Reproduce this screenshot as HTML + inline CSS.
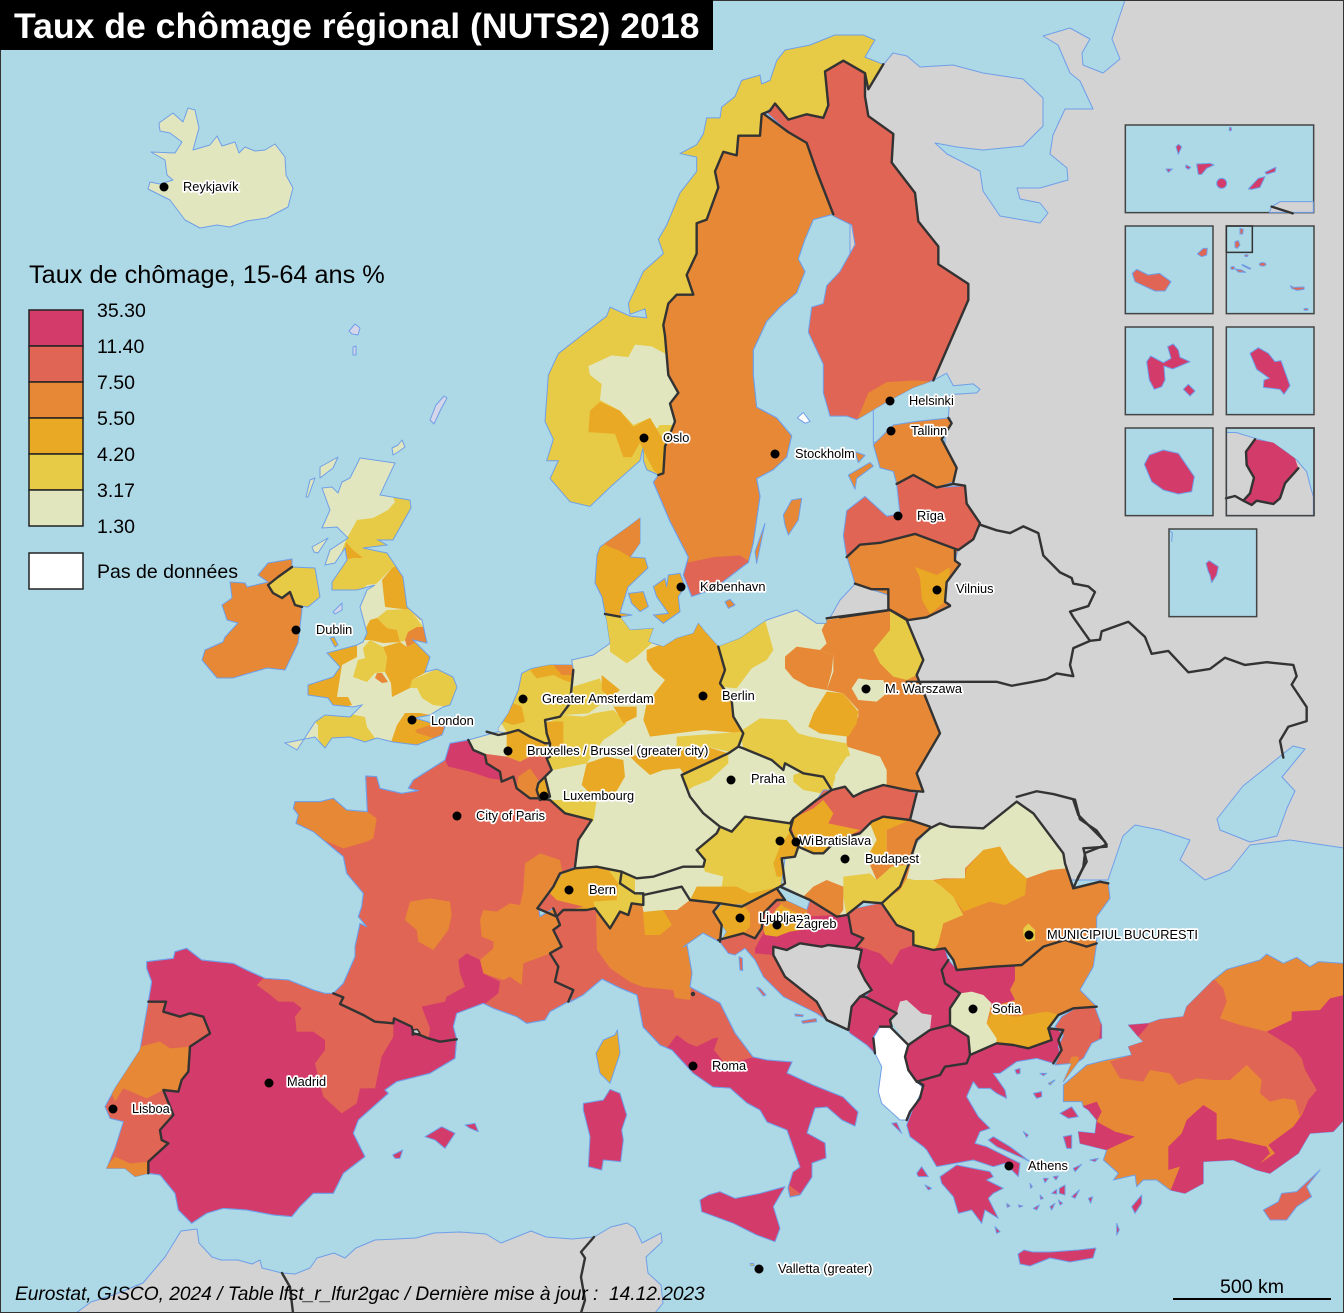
<!DOCTYPE html>
<html lang="fr">
<head>
<meta charset="utf-8">
<title>Taux de chômage régional (NUTS2) 2018</title>
<style>
html,body{margin:0;padding:0;background:#add8e6}
svg{display:block;font-family:"Liberation Sans",sans-serif}
svg *{vector-effect:non-scaling-stroke}
.c1{fill:#e1e6bf}.c2{fill:#e7ca45}.c3{fill:#eaa925}.c4{fill:#e68835}.c5{fill:#e16554}.c6{fill:#d33c6a}
.gr{fill:#d3d3d3}.wh{fill:#fff}.sea{fill:#add8e6}.pale{fill:#d6d6ea}
.coast{stroke:#6f9fe8;stroke-width:1;stroke-linejoin:round}
.lineonly{fill:none;stroke:#6f9fe8;stroke-width:1}
.b{fill:none;stroke:#333;stroke-width:2.4;stroke-linejoin:round;stroke-linecap:round}
.city text,.lab{font-size:12.8px;fill:#000;stroke:#fff;stroke-width:3.4px;paint-order:stroke;stroke-linejoin:round}
.leg{font-size:19.5px;fill:#000}
.inset{fill:#add8e6;stroke:#444;stroke-width:1.5}
</style>
</head>
<body>
<svg width="1344" height="1313" viewBox="0 0 1344 1313" xmlns="http://www.w3.org/2000/svg">
<defs>
<g transform="translate(0,0)">
<polygon id="no" points="1030,40 975,20 1005,-28 970,-42 885,-42 810,-14 735,0 710,30 690,85 665,95 660,70 605,85 585,130 545,160 540,190 500,190 490,235 470,265 420,290 470,300 470,340 420,400 380,490 355,530 370,570 310,620 265,710 270,740 315,725 320,750 270,745 210,720 200,745 110,810 55,850 25,910 15,1040 40,1090 20,1150 55,1150 30,1200 90,1265 150,1278 215,1220 300,1150 310,1110 310,1150 320,1175 355,1190 370,1185 375,1110 405,1040 390,990 415,960 385,910 375,800 370,770 385,710 410,685 460,685 440,630 470,570 470,485 500,475 535,385 525,340 550,285 590,295 595,240 660,240 665,180 690,170 705,150 745,195 800,180 850,190 865,155 855,60 910,30 975,65 985,110"/>
<polygon id="se" points="670,178 745,230 800,260 830,340 855,400 880,460 820,475 795,530 775,585 795,620 770,680 720,720 680,760 640,840 640,910 650,1000 710,1030 755,1080 740,1140 700,1175 650,1200 660,1250 640,1380 625,1435 610,1445 520,1510 455,1530 430,1470 445,1420 390,1320 340,1210 355,1190 370,1185 375,1110 405,1040 390,990 415,960 385,910 375,800 370,770 385,710 410,685 460,685 440,630 470,570 470,485 500,475 535,385 525,340 550,285 590,295 595,240 660,240 665,180"/>
<polygon id="fi" points="680,175 705,150 745,195 800,180 850,190 865,155 855,60 910,30 975,65 975,130 985,185 1060,235 1055,315 1125,400 1135,480 1195,550 1195,600 1285,655 1285,700 1180,925 1120,945 1040,985 950,1035 920,1025 870,1025 850,960 850,880 805,790 815,720 850,710 860,660 900,620 945,545 935,490 880,465 855,400 830,340 800,260 745,230"/>
<polygon id="de" points="465,42 510,50 540,90 610,85 595,125 640,140 680,115 730,100 745,70 765,95 805,140 825,210 810,250 845,300 850,350 880,400 865,440 835,460 695,525 720,590 760,640 810,680 800,700 740,750 765,780 760,800 700,800 610,830 560,835 515,815 440,800 375,805 385,720 425,660 345,640 300,600 285,580 285,530 305,510 290,475 300,470 300,430 285,430 290,400 285,360 330,350 360,310 370,210 365,180 430,165 480,130 470,60"/>
<polygon id="pl" points="805,140 870,115 950,60 1040,30 1100,70 1130,70 1130,55 1320,30 1370,60 1420,180 1400,225 1430,300 1470,400 1400,520 1420,575 1380,572 1300,555 1240,575 1210,590 1185,560 1145,570 1120,530 1060,520 1005,490 1000,510 965,480 880,445 865,440 880,400 850,350 845,300 810,250 825,210"/>
<polygon id="nl" points="145,385 175,340 205,270 215,220 245,205 300,195 365,195 370,210 360,310 330,350 285,360 290,400 300,430 285,430 240,410 205,390 170,400 145,395"/>
<polygon id="be" points="55,420 145,395 170,400 205,390 240,410 285,430 300,430 300,470 290,475 305,510 285,530 265,550 260,570 265,595 240,595 200,565 190,530 155,545 150,515 110,490 105,465 70,450"/>
<polygon id="ch" points="375,805 440,800 515,815 510,850 555,880 580,880 580,915 545,910 535,945 510,935 480,985 465,965 435,925 410,930 340,930 320,950 262,925 310,860 330,820"/>
<polygon id="at" points="515,815 560,835 610,830 700,800 760,800 765,780 740,750 800,700 810,680 845,695 885,650 1020,670 1030,655 1020,690 1045,740 1035,770 995,775 1005,850 990,860 875,920 810,910 720,900 695,860 580,885 555,880 510,850"/>
<polygon id="cz" points="695,525 835,460 865,440 880,445 965,480 1000,510 1005,490 1060,520 1120,530 1145,570 1100,600 1030,655 1020,670 885,650 845,695 810,680 760,640 720,590"/>
<polygon id="sk" points="1030,655 1100,600 1120,570 1145,570 1185,560 1210,590 1240,575 1300,555 1380,572 1400,580 1385,640 1380,660 1300,650 1265,665 1230,700 1160,720 1120,760 1090,760 1045,740 1020,690"/>
<polygon id="fr" points="1095,0 1110,-50 1165,-60 1180,-30 1215,-15 1220,10 1260,35 1265,65 1300,50 1310,85 1350,115 1375,115 1410,120 1455,160 1535,180 1495,240 1485,320 1445,340 1375,440 1380,470 1420,445 1440,495 1420,510 1445,560 1410,580 1435,620 1425,665 1480,690 1465,725 1410,755 1395,780 1340,790 1310,770 1240,745 1210,730 1130,760 1120,800 1130,838 1080,845 1045,835 1020,825 1000,820 995,800 942,775 940,790 885,785 850,765 780,732 790,712 760,700 790,670 825,590 825,560 840,490 860,500 835,470 845,440 850,400 800,340 790,290 730,240 700,215 648,190 655,165 640,145 645,125 720,125 760,115 800,150 862,155 857,48 890,50 900,85 965,100 1015,92 985,85 1000,60"/>
<polygon id="es" points="200,605 280,595 285,575 320,565 365,600 460,610 500,630 555,655 625,660 700,690 735,700 760,700 790,712 780,732 850,765 885,785 940,790 942,775 995,800 1000,820 1020,825 1045,835 1080,845 1130,838 1125,895 1050,940 950,965 915,990 925,1000 835,1080 820,1120 855,1190 790,1240 760,1300 700,1300 660,1340 635,1370 580,1365 500,1350 430,1345 380,1360 335,1390 295,1350 285,1300 240,1245 205,1240 205,1205 265,1150 245,1140 240,1110 280,1065 250,990 295,995 305,960 325,935 330,860 390,820 370,770 330,760 300,770 250,755 258,725 205,725 215,665 200,625"/>
<polygon id="pt" points="205,725 258,725 250,755 300,770 330,760 370,770 390,820 330,860 325,935 305,960 295,995 250,990 280,1065 240,1110 245,1140 265,1150 205,1205 205,1240 165,1250 135,1225 80,1225 105,1165 130,1085 90,1075 75,1040 105,985 180,870 190,810"/>
<polygon id="it" points="573,990 555,982 558,967 550,953 562,947 553,930 560,925 557,917 563,910 587,910 595,908 605,922 610,928 620,912 628,915 632,903 643,905 643,895 682,887 690,900 720,903 713,912 722,925 720,942 703,933 683,947 687,945 692,973 690,987 720,1003 735,1033 753,1057 767,1060 792,1062 787,1073 813,1085 843,1097 858,1112 855,1126 842,1120 827,1107 815,1108 807,1133 825,1143 826,1158 812,1163 812,1177 800,1195 790,1197 788,1188 793,1172 800,1167 787,1130 767,1122 760,1110 747,1103 730,1088 713,1087 693,1073 672,1050 660,1045 643,1027 637,995 620,988 602,979 583,995 570,1002"/>
<polygon id="gb" points="360,458 395,463 380,495 410,500 411,508 393,540 378,540 387,545 363,548 387,553 403,577 407,607 422,620 427,643 413,640 430,657 425,672 437,669 453,677 457,687 450,705 443,707 430,715 415,718 445,727 442,735 417,745 393,742 377,738 365,742 350,737 332,738 325,748 315,737 285,743 297,750 315,722 325,715 350,717 362,705 353,707 333,705 328,698 308,695 308,685 333,677 340,667 327,653 357,645 363,642 367,633 360,607 367,590 375,585 357,590 332,590 332,582 347,560 345,548 335,563 325,565 330,550 348,538 337,527 322,528 330,510 322,488 332,487 338,493 342,482 350,478"/>
<polygon id="ie" points="258,575 268,563 292,559 292,567 300,605 302,610 298,643 285,670 267,668 233,678 217,678 202,660 205,650 223,642 225,637 238,623 227,620 222,605 232,598 230,582 245,583 247,587 268,582"/>
<polygon id="dk" points="600,547 628,527 640,518 640,543 630,557 645,558 648,568 628,587 625,597 620,613 632,615 620,617 605,613 602,597 595,583 597,555"/>
<polygon id="lv" points="910,1360 920,1290 975,1250 1040,1305 1080,1300 1070,1215 1120,1190 1190,1225 1275,1220 1280,1270 1320,1325 1300,1370 1255,1400 1125,1355 1020,1380 960,1385 920,1420"/>
<polygon id="lt" points="847,557 860,545 880,543 915,534 958,550 955,561 960,564 947,582 945,602 950,605 927,617 907,620 888,609 888,595 855,584"/>
<polygon id="hu" points="295,140 340,160 370,160 410,120 480,100 515,65 550,50 630,60 690,80 650,120 620,200 600,260 550,305 490,305 440,345 410,350 330,300 250,260 245,250 255,175 285,170"/>
<polygon id="ro" points="625,200 650,130 690,85 720,70 750,80 850,85 950,5 1000,40 1090,160 1095,190 1120,265 1200,245 1225,250 1230,295 1190,350 1190,430 1160,440 1095,420 1030,440 965,495 880,500 770,510 760,480 735,445 700,450 640,435 640,395 590,375 545,310 600,260"/>
<polygon id="bg" points="745,480 770,510 880,500 965,495 1030,440 1095,420 1160,440 1190,430 1180,500 1140,570 1190,620 1120,625 1070,650 1045,685 1055,720 985,745 940,735 890,730 810,765 805,710 750,675 750,625 780,580 735,550 725,510"/>
<polygon id="rs" points="445,345 470,325 540,310 590,375 640,395 640,435 700,450 735,445 745,480 725,510 735,550 780,580 750,625 750,675 690,690 625,735 590,640 495,590 515,570 495,540 475,500 485,450 465,445 490,415 455,400"/>
<polygon id="hr" points="185,385 190,340 230,300 255,300 320,330 330,300 410,350 445,345 455,400 490,415 465,445 385,435 365,440 300,430 260,450 225,440 220,465 255,530 350,605 380,660 350,640 250,590 190,530 165,480 135,445 105,465 85,460 55,420 65,420 130,400 165,415"/>
<polygon id="ana" points="385,285 445,280 480,268 550,260 560,230 640,150 680,118 780,90 800,72 850,100 890,82 930,110 955,95 1032,100 1100,100 1100,650 1032,570 1000,605 930,610 895,670 810,730 770,720 700,690 610,695 610,760 555,790 510,780 470,750 430,750 410,770 405,735 340,750 355,730 310,690 320,660 240,640 235,605 285,610 290,570 265,540 250,530 245,515 190,515 190,465 260,405 300,395 320,390 395,375 385,350 430,335 415,320"/>
<polygon id="thr" points="285,232 305,285 305,325 275,340 250,385 235,395 190,455 215,400 165,405 180,370 175,350 190,315 165,290 185,260 225,235"/>
</g>
<clipPath id="cno"><use href="#no"/></clipPath><clipPath id="cse"><use href="#se"/></clipPath><clipPath id="cfi"><use href="#fi"/></clipPath>
<clipPath id="cde"><use href="#de"/></clipPath><clipPath id="cpl"><use href="#pl"/></clipPath><clipPath id="cnl"><use href="#nl"/></clipPath>
<clipPath id="cbe"><use href="#be"/></clipPath><clipPath id="cch"><use href="#ch"/></clipPath><clipPath id="cat"><use href="#at"/></clipPath>
<clipPath id="ccz"><use href="#cz"/></clipPath><clipPath id="csk"><use href="#sk"/></clipPath><clipPath id="cfr"><use href="#fr"/></clipPath>
<clipPath id="ces"><use href="#es"/></clipPath><clipPath id="cpt"><use href="#pt"/></clipPath><clipPath id="cit"><use href="#it"/></clipPath>
<clipPath id="cgb"><use href="#gb"/></clipPath><clipPath id="cdk"><use href="#dk"/></clipPath><clipPath id="clt"><use href="#lt"/></clipPath>
<clipPath id="chu"><use href="#hu"/></clipPath><clipPath id="cro"><use href="#ro"/></clipPath><clipPath id="cbg"><use href="#bg"/></clipPath>
<clipPath id="crs"><use href="#rs"/></clipPath><clipPath id="chr"><use href="#hr"/></clipPath><clipPath id="cana"><use href="#ana"/></clipPath><clipPath id="cthr"><use href="#thr"/></clipPath>
</defs>

<rect class="sea" width="1344" height="1313"/>

<!-- non-EU land -->
<g>
<polygon class="gr coast" points="883,65 893,53 907,56 920,67 953,65 983,73 1023,79 1043,98 1043,126 1023,146 983,150 957,147 935,143 947,154 980,171 983,191 1000,216 1040,223 1048,213 1040,203 1020,199 1017,188 1040,188 1068,180 1067,168 1050,154 1053,135 1065,109 1093,109 1080,81 1070,73 1058,45 1043,36 1070,28 1090,39 1082,53 1083,65 1103,73 1120,59 1112,39 1125,0 1344,0 1344,848 1290,840 1250,845 1230,870 1205,880 1180,860 1190,840 1160,830 1135,825 1123,836 1108,880 1100,880 1000,880 900,840 905,790 925,700 900,625 827,623 840,600 855,584 900,540 945,470 945,400 930,375 850,300 850,100 868,75"/>
<polygon class="sea coast" points="1217,819 1243,786 1293,746 1305,749 1282,777 1295,791 1287,808 1277,836 1250,842 1220,830"/>
<g transform="translate(540,50) scale(.33333,.35714)">
<polygon class="sea coast" points="1180,925 1220,905 1240,940 1300,935 1320,950 1310,960 1230,965 1225,1030 1120,1060 1000,1100 1000,900"/>
</g>
<polygon class="gr coast" points="76,1313 91,1302 113,1295 143,1283 165,1257 181,1231 197,1229 199,1243 212,1257 221,1260 238,1260 252,1264 260,1260 262,1268 282,1273 295,1274 310,1268 317,1258 334,1253 345,1258 356,1248 375,1240 416,1238 434,1233 460,1232 486,1234 501,1243 531,1231 546,1237 572,1239 594,1237 611,1227 627,1223 635,1228 642,1243 661,1233 662,1242 646,1257 648,1273 661,1285 663,1303 655,1313"/>
<polyline class="b" points="282,1273 290,1287 293,1313"/>
<polyline class="b" points="594,1237 581,1252 585,1258 581,1277 585,1300 581,1313"/>
</g>

<!-- Iceland -->
<polygon class="c1 coast" points="159,123 173,113 183,122 188,108 195,110 199,128 193,150 210,145 217,136 222,146 235,142 239,153 245,147 255,151 265,150 275,144 285,157 286,175 293,188 288,207 267,218 247,221 230,227 217,225 200,228 185,220 170,200 148,189 150,182 160,184 173,180 167,175 165,160 151,152 175,153 182,142 170,133 160,131"/>
<g>
<polygon class="pale coast" points="349,331 355,324 360,328 358,335 352,334"/>
<polygon class="pale coast" points="353,347 356,346 356,355 353,355"/>
<polygon class="pale coast" points="436,405 444,396 447,398 441,409 434,424 430,420"/>
</g>

<!-- British Isles -->
<g>
<use href="#ie" class="c4 coast"/>
<polygon class="c2 coast" points="292,567 315,568 318,585 320,597 308,607 295,605 290,592 282,598 273,593 268,585 278,577"/>
<polyline class="b" points="292,567 278,577 268,585 273,593 282,598 290,592 295,605 302,607"/>
</g>
<g>
<use href="#gb" class="c1"/>
<g clip-path="url(#cgb)">
<polygon class="c2" points="393,497 430,490 430,550 400,567 392,568 382,578 375,585 370,590 327,593 342,563 342,550 347,538 357,520 373,518 388,510 395,502"/>
<polygon class="c3" points="346,542 353,550 363,558 353,558 344,560"/>
<polygon class="c3" points="392,568 382,580 385,607 410,610 420,620 430,610 410,560"/>
<polygon class="c1" points="382,583 385,607 378,617 363,610 350,603 367,585"/>
<polygon class="c2" points="377,618 387,610 410,609 423,627 407,640 400,642 397,630 387,628"/>
<polygon class="c4" points="408,632 417,627 423,627 432,643 417,642 407,647 405,640"/>
<polygon class="c3" points="370,620 377,618 387,628 397,630 400,642 383,643 370,640 360,640"/>
<polygon class="c3" points="383,647 400,642 407,647 417,642 435,657 430,670 412,680 410,688 392,697 391,683 385,672 387,657"/>
<polygon class="c2" points="370,640 383,647 387,657 385,672 375,673 367,682 353,677 358,660 365,658 363,648"/>
<polygon class="c1" points="357,645 365,658 358,660 354,653"/>
<polygon class="c4" points="377,673 382,673 388,682 382,683 375,678"/>
<polygon class="c2" points="412,680 437,669 460,677 460,700 450,707 433,705 422,698 417,688 410,688"/>
<polygon class="c3" points="300,677 333,677 340,667 320,650 357,640 357,657 342,665 338,690 337,697 348,697 352,705 333,710 328,698 300,700"/>
<polygon class="c3" points="397,725 405,713 420,713 430,715 450,725 445,740 417,750 390,745"/>
<polygon class="c4" points="415,730 430,725 450,726 445,736 433,738 417,733"/>
<polygon class="c2" points="315,722 325,713 350,714 365,717 367,727 375,738 365,745 350,737 332,738 325,750 318,738 318,725"/>
</g>
<use href="#gb" class="lineonly"/>
<polygon class="c1 coast" points="320,467 338,457 333,468 320,478"/>
<polygon class="c1 coast" points="310,480 315,478 308,497 306,497"/>
<polygon class="c1 coast" points="312,547 328,538 318,553 314,552"/>
<polygon class="pale coast" points="333,612 342,603 342,610 335,614"/>
<polygon class="c3 coast" points="330,638 334,637 338,645 335,647"/>
<polygon class="c1 coast" points="392,448 398,445 402,440 405,447 398,452 393,455"/>
</g>

<!-- Nordics, Baltics -->
<g transform="translate(540,50) scale(.33333,.35714)">
<g>
<use href="#no" class="c2 coast"/>
<g clip-path="url(#cno)">
<polygon class="c1" points="145,885 215,855 265,860 285,825 335,830 385,855 420,950 390,990 410,1050 360,1050 350,1060 330,1030 280,1050 240,1010 180,980 185,935 150,910"/>
<polygon class="c3" points="150,1010 180,985 240,1010 280,1055 330,1030 375,1100 365,1200 340,1175 315,1130 300,1100 275,1140 250,1140 225,1075 145,1070"/>
</g>
</g>
<g>
<use href="#se" class="c4 coast"/>
<g clip-path="url(#cse)"><polygon class="c5" points="420,1440 520,1420 600,1415 640,1440 640,1600 400,1600"/></g>
<use href="#se" class="lineonly"/>
</g>
<g>
<use href="#fi" class="c5 coast"/>
<g clip-path="url(#cfi)"><polygon class="c4" points="950,1040 985,960 1040,930 1125,925 1200,930 1050,1060"/></g>
<polygon class="wh coast" points="772,1030 790,1015 810,1040 795,1045"/>
</g>
<g>
<polygon class="c4 coast" points="1000,1105 1060,1050 1130,1040 1230,1030 1235,1045 1205,1090 1250,1170 1240,1210 1190,1225 1120,1190 1070,1215 1060,1180 1020,1170"/>
<polygon class="c4 coast" points="925,1190 990,1155 1000,1165 950,1200 945,1230"/>
<polygon class="c4 coast" points="945,1125 975,1135 955,1155"/>
</g>
</g>
<g transform="translate(540,330) scale(.33333)">
<polygon class="c4 coast" points="730,555 755,510 785,505 775,570 745,615 735,585"/>
<polygon class="c4 coast" points="675,580 650,700 645,665"/>
<polygon class="c3 coast" points="265,790 310,785 325,830 300,845 275,820"/>
<polygon class="c3 coast" points="340,770 375,745 380,770 385,735 420,730 435,770 415,800 420,845 370,880 340,855 385,850 350,800"/>
<polygon class="c4 coast" points="555,815 570,808 585,825 565,835"/>
</g>
<g>
<use href="#dk" class="c3 coast"/>
<g clip-path="url(#cdk)"><polygon class="c4" points="595,540 640,515 645,550 630,557 618,550 612,548"/></g>
</g>
<g transform="translate(540,50) scale(.33333,.35714)">
<use href="#lv" class="c5 coast"/>
</g>
<g>
<use href="#lt" class="c4 coast"/>
<g clip-path="url(#clt)"><polygon class="c3" points="915,567 937,575 950,567 947,600 930,614 922,600 920,578"/></g>
</g>

<!-- Central Europe (zoom1 space) -->
<g transform="translate(450,600) scale(.33333)">
<g>
<use href="#de" class="c1 coast"/>
<g clip-path="url(#cde)">
<polygon class="c2" points="465,40 510,50 550,90 610,85 605,130 560,170 530,190 480,155 480,130"/>
<polygon class="c3" points="590,150 640,130 680,115 730,100 745,70 765,95 810,130 825,210 810,250 845,300 850,350 880,400 760,390 600,410 580,360 590,310 645,240 610,210 590,180"/>
<polygon class="c2" points="370,260 450,235 470,300 415,340 340,345 360,310"/>
<polygon class="c3" points="455,225 510,270 480,295 455,270"/>
<polygon class="c2" points="290,370 340,345 400,350 430,340 490,330 530,370 510,385 490,400 460,420 410,490 310,510 290,470 300,430"/>
<polygon class="c3" points="285,365 340,365 340,430 310,470 285,465"/>
<polygon class="c3" points="490,320 560,320 560,350 520,370"/>
<polygon class="c3" points="410,490 470,470 520,480 525,530 490,590 440,600 395,555"/>
<polygon class="c3" points="540,470 620,450 770,440 835,460 700,520 690,505 640,510 600,525 560,490"/>
<polygon class="c2" points="680,410 880,395 865,445 835,455 770,440 680,440"/>
<polygon class="c2" points="300,600 345,600 395,570 440,600 430,665 345,640"/>
</g>
</g>
<g>
<use href="#pl" class="c1 coast"/>
<g clip-path="url(#cpl)">
<polygon class="c2" points="805,135 945,60 970,150 950,180 905,205 860,265 810,260"/>
<polygon class="c4" points="1005,170 1040,140 1110,150 1150,165 1145,215 1130,270 1075,260 1030,235 1005,205"/>
<polygon class="c4" points="1115,90 1130,60 1320,30 1370,60 1480,180 1480,400 1420,580 1310,555 1310,510 1290,470 1190,440 1190,410 1225,350 1225,330 1180,280 1130,270 1150,215 1150,165 1110,150 1130,130"/>
<polygon class="c3" points="1090,340 1130,275 1180,280 1225,335 1220,370 1195,410 1110,400 1075,380"/>
<polygon class="c2" points="1270,150 1320,90 1320,30 1370,60 1420,180 1400,225 1370,240 1330,230 1290,190"/>
<polygon class="c1" points="1205,265 1225,235 1260,240 1300,240 1310,280 1280,305 1225,300"/>
<polygon class="c2" points="870,395 930,355 1010,360 1045,400 1080,410 1190,430 1200,465 1170,500 1150,550 1145,575 1120,530 1060,520 1005,490 1000,510 965,480 880,445"/>
<polygon class="c1" points="1155,525 1190,470 1245,460 1280,480 1310,560 1240,580 1210,595 1185,560 1160,570"/>
</g>
</g>
<g>
<use href="#nl" class="c2 coast"/>
<g clip-path="url(#cnl)">
<polygon class="c3" points="240,210 300,190 370,190 372,250 340,240 310,225 260,235"/>
<polygon class="c4" points="310,195 370,190 372,225 335,225"/>
<polygon class="c3" points="160,365 190,310 215,320 225,365 190,375"/>
<polygon class="c1" points="130,360 145,400 170,395 150,365"/>
</g>
</g>
<g>
<use href="#be" class="c1 coast"/>
<g clip-path="url(#cbe)">
<polygon class="c3" points="170,400 205,385 240,410 290,430 300,470 240,470 210,485 170,470"/>
<polygon class="c5" points="95,460 170,470 210,485 240,470 310,470 310,510 285,530 265,550 265,600 240,600 200,570 190,530 155,550 150,515 110,490"/>
<polygon class="c4" points="205,530 240,505 265,540 270,600 240,600 200,565"/>
</g>
</g>
<polygon class="c3 coast" points="265,545 285,530 300,590 270,600 260,570"/>
<g>
<use href="#ch" class="c3 coast"/>
<g clip-path="url(#cch)">
<polygon class="c2" points="465,795 520,815 510,850 555,880 585,880 585,915 545,910 535,950 510,935 480,990 465,965 435,925 430,905 500,900 505,850 490,830"/>
<polygon class="c5" points="262,925 300,880 320,900 400,920 340,935 320,955"/>
</g>
</g>
<g>
<use href="#at" class="c2 coast"/>
<g clip-path="url(#cat)">
<polygon class="c1" points="555,835 610,830 700,800 760,800 765,815 820,830 815,860 740,860 745,895 720,900 695,860 580,885 555,880"/>
<polygon class="c3" points="740,860 860,860 900,880 990,860 875,925 810,910 720,900"/>
<polygon class="c3" points="1030,680 1050,740 1035,775 995,775 1005,830 980,830 970,790 990,740"/>
</g>
</g>
<g>
<use href="#cz" class="c1 coast"/>
<g clip-path="url(#ccz)">
<polygon class="c2" points="695,525 835,455 835,490 780,540 730,560 715,570"/>
<polygon class="c2" points="1030,525 1060,515 1120,530 1150,570 1115,580 1060,570 1030,545"/>
</g>
</g>
<g>
<use href="#sk" class="c5 coast"/>
<g clip-path="url(#csk)"><polygon class="c3" points="1020,660 1090,625 1120,600 1150,640 1135,670 1230,690 1160,725 1120,765 1090,765 1040,745"/></g>
</g>
</g>

<!-- France Iberia (zoom7 space) -->
<g transform="translate(80,760) scale(.33333)">
<g>
<use href="#fr" class="c5 coast"/>
<g clip-path="url(#cfr)">
<polygon class="c4" points="630,120 760,110 800,150 862,155 890,175 880,235 860,245 790,265 730,240 630,200"/>
<polygon class="c4" points="990,425 1050,415 1110,425 1115,465 1105,510 1060,570 1015,545 1010,510 975,480"/>
<polygon class="c4" points="1200,480 1210,450 1250,455 1290,430 1320,435 1330,390 1335,310 1380,280 1440,300 1450,350 1375,440 1380,470 1420,445 1440,495 1420,510 1445,560 1410,580 1385,590 1330,610 1325,675 1290,650 1270,660 1210,640 1200,600 1240,565 1240,545 1205,530"/>
<polygon class="c6" points="1095,0 1105,-60 1170,-65 1230,0 1270,40 1265,60 1230,55 1170,35 1105,20"/>
<polygon class="c6" points="1135,600 1160,580 1200,600 1210,640 1260,665 1255,700 1210,735 1130,760 1120,800 1130,845 1080,850 1045,840 1050,805 1025,740 1095,725 1100,710 1155,680 1140,640"/>
</g>
<use href="#fr" class="lineonly"/>
</g>
<g>
<use href="#es" class="c6 coast"/>
<g clip-path="url(#ces)"><polygon class="c5" points="530,675 555,650 625,655 700,685 760,695 790,712 780,732 850,765 885,785 940,790 940,830 905,890 885,985 840,985 830,1030 785,1060 730,1010 705,910 735,870 735,840 700,815 650,815 645,770 665,745 640,725 595,725 565,700"/></g>
<use href="#es" class="lineonly"/>
</g>
<g>
<use href="#pt" class="c5 coast"/>
<g clip-path="url(#cpt)">
<polygon class="c4" points="180,860 240,845 270,865 335,860 330,935 305,960 295,995 250,990 200,1015 130,985 105,1025 90,985 170,870"/>
<polygon class="c4" points="70,1230 105,1190 150,1210 210,1205 210,1250 165,1260"/>
</g>
</g>
<polygon class="c6 coast" points="1035,1130 1085,1100 1125,1120 1095,1165 1065,1140"/>
<polygon class="c6 coast" points="1155,1095 1185,1090 1195,1115 1170,1105"/>
<polygon class="c6 coast" points="938,1185 968,1170 960,1195 945,1195"/>
<polygon class="gr" points="997,810 1012,808 1020,820 997,825"/>
</g>

<!-- Italy -->
<g>
<use href="#it" class="c5 coast"/>
<g clip-path="url(#cit)">
<polygon class="c4" points="596,912 608,925 622,912 632,903 643,895 682,887 690,900 720,903 713,912 722,925 725,945 690,950 692,973 690,1000 675,998 673,990 643,987 630,982 610,968 597,950"/>
<polygon class="c1" points="640,893 682,885 690,900 677,910 663,910 660,925 645,920"/>
<polygon class="c3" points="643,912 663,910 672,925 660,935 645,935"/>
<g transform="translate(560,940) scale(.33333)">
<polygon class="c6" points="320,325 350,285 385,310 410,320 460,295 475,292 462,330 490,365 530,365 585,350 700,350 920,500 920,620 800,820 400,520"/>
</g>
</g>
<use href="#it" class="lineonly"/>
<circle cx="693" cy="994" r="2.2" fill="#333"/>
</g>
<g transform="translate(560,940) scale(.33333)">
<polygon class="c3 coast" points="108,340 130,300 165,285 172,270 180,340 150,430 120,400"/>
<polygon class="c6 coast" points="70,490 130,480 150,448 180,460 200,525 185,570 190,600 182,665 130,660 125,690 85,680 90,590 70,510"/>
<polygon class="c6 coast" points="420,780 445,765 480,755 525,775 600,760 675,740 640,800 660,865 645,905 590,885 520,850 425,815"/>
<polygon class="c2 coast" points="570,971 580,970 583,977 573,977"/>
<g class="c5">
<polygon class="coast" points="537,50 547,55 548,92 540,90"/>
<polygon class="coast" points="590,142 600,145 618,165 610,168"/>
<polygon class="coast" points="705,222 730,225 728,230 706,228"/>
<polygon class="coast" points="725,243 768,236 770,245 728,250"/>
</g>
</g>

<!-- Balkans (zoom3 space) -->
<g transform="translate(700,800) scale(.33333)">
<g>
<polygon class="c4 coast" points="40,340 65,315 130,315 230,265 255,300 230,300 190,340 185,385 165,415 130,400 65,420 80,395"/>
<polygon class="c3" points="40,340 65,315 130,315 150,340 150,380 130,400 65,420 80,395"/>
</g>
<g>
<use href="#hu" class="c1 coast"/>
<g clip-path="url(#chu)">
<polygon class="c3" points="510,70 550,45 640,60 560,90 560,170 510,195 505,165 530,120"/>
<polygon class="c4" points="560,90 640,55 695,85 650,120 625,195 575,200 530,240 510,195 560,170"/>
<polygon class="c2" points="430,230 510,220 530,240 575,200 630,195 605,265 550,310 490,310 440,350 430,290"/>
<polygon class="c4" points="310,290 340,260 380,240 430,260 430,330 410,355 330,305"/>
</g>
</g>
<g>
<use href="#ro" class="c4 coast"/>
<g clip-path="url(#cro)">
<polygon class="c1" points="620,235 650,130 690,80 720,65 750,75 850,80 950,0 1000,35 1090,155 1100,205 1050,210 980,235 930,190 900,140 850,150 795,205 795,235 730,235 700,240 640,240"/>
<polygon class="c3" points="705,240 795,235 800,205 850,150 900,140 930,190 980,235 975,285 915,315 870,305 790,335 760,290 720,255"/>
<polygon class="c2" points="540,310 600,270 620,235 640,240 700,240 720,255 760,290 790,345 730,370 715,430 700,455 640,440 640,395 590,380"/>
<polygon class="c2" points="970,385 985,370 1005,390 1005,420 980,425 970,405"/>
</g>
</g>
<g>
<use href="#bg" class="c4 coast"/>
<g clip-path="url(#cbg)">
<polygon class="c6" points="740,475 770,505 880,495 945,495 945,540 930,570 945,600 875,620 850,585 815,580 780,580 730,550 720,510"/>
<polygon class="c1" points="780,580 815,575 850,585 875,610 860,670 890,715 890,735 810,770 805,710 745,675 745,625"/>
<polygon class="c3" points="875,640 950,650 1040,635 1080,645 1050,685 1060,725 985,750 890,735 890,715 860,670"/>
<polygon class="c6" points="890,735 985,745 1060,720 1060,760 880,760"/>
</g>
</g>
<g>
<use href="#rs" class="c6 coast"/>
<g clip-path="url(#crs)"><polygon class="c5" points="440,345 470,325 540,305 590,375 640,395 640,435 600,450 575,495 540,460 480,440 465,445 490,415 455,400"/></g>
</g>
<g>
<use href="#hr" class="c5 coast"/>
<g clip-path="url(#chr)">
<polygon class="c6" points="165,445 190,400 240,385 310,350 410,345 450,340 460,400 495,415 470,450 385,435 365,440 300,430 260,450 225,440 220,465 165,460"/>
<polygon class="c3" points="190,385 230,325 255,300 320,335 335,385 270,395 230,410 195,405"/>
<polygon class="c4" points="230,295 255,295 325,330 305,345 250,320"/>
</g>
</g>
<polygon class="gr" points="220,440 225,440 260,450 300,430 365,440 385,435 465,445 485,450 475,500 495,540 515,570 480,590 455,620 445,690 380,660 350,605 255,530 220,465"/>
<polygon class="c6 coast" points="445,690 455,620 480,590 495,590 590,640 570,660 575,680 545,680 520,710 525,760 500,735 450,700"/>
<polygon class="gr" points="600,605 620,600 665,640 695,645 690,690 625,735 570,660 590,640"/>
<polygon class="wh coast" points="520,715 540,680 570,680 625,735 615,770 625,810 650,845 670,855 660,895 630,935 620,960 600,960 545,910 535,875 545,800 525,760"/>
<polygon class="c6 coast" points="625,735 690,690 750,675 805,710 810,765 800,790 735,800 720,825 650,845 625,810 615,770"/>
</g>

<!-- Greece -->
<g transform="translate(560,940) scale(.33333)">
<polygon class="c6 coast" points="1070,425 1140,405 1155,380 1220,370 1230,345 1310,310 1360,315 1405,325 1475,300 1465,265 1510,270 1495,300 1505,330 1480,370 1430,355 1370,365 1320,400 1300,400 1335,450 1340,475 1310,460 1290,445 1255,445 1240,425 1220,470 1255,530 1290,565 1260,575 1245,610 1280,620 1320,640 1380,670 1375,710 1335,670 1300,680 1240,660 1130,680 1100,630 1090,620 1050,590 1040,555 1055,515 1090,445"/>
<polygon class="c6 coast" points="1285,600 1300,590 1350,620 1410,665 1390,655 1310,620"/>
<polygon class="c6 coast" points="1140,710 1190,675 1240,685 1290,695 1300,710 1280,720 1330,745 1300,760 1285,775 1315,835 1275,810 1265,850 1235,810 1195,820 1180,770 1145,730"/>
<polygon class="c6 coast" points="995,550 1010,548 1025,580"/>
<polygon class="c6 coast" points="1070,700 1085,680 1105,710 1075,710"/>
<polygon class="c6 coast" points="1095,735 1115,745 1105,750"/>
<polygon class="c6 coast" points="1305,860 1320,875 1310,880"/>
</g>
<polygon class="c6 coast" points="1018,1254 1024,1250 1033,1252 1050,1252 1078,1250 1096,1248 1093,1258 1070,1262 1050,1258 1030,1266 1020,1264"/>

<!-- Turkey, Aegean, Cyprus -->
<g transform="translate(1000,930) scale(.33333)">
<g>
<use href="#thr" class="c5 coast"/>
<g clip-path="url(#cthr)">
<polygon class="c6" points="303,275 375,285 375,325 298,325"/>
<polygon class="c4" points="215,380 235,380 235,400 190,460 190,440"/>
</g>
</g>
<g>
<use href="#ana" class="c4 coast"/>
<g clip-path="url(#cana)">
<polygon class="c5" points="380,280 445,275 480,263 550,255 560,225 640,145 670,175 680,215 660,265 720,285 800,305 880,355 905,385 915,420 950,480 925,510 900,560 885,510 850,505 810,515 780,490 785,450 740,405 690,450 640,450 590,445 535,465 510,430 450,420 430,455 360,445 330,395 395,375 385,350"/>
<polygon class="c6" points="385,285 445,280 445,285 415,320 385,320"/>
<polygon class="c6" points="800,305 875,270 875,245 960,240 990,205 1032,195 1100,190 1100,700 1032,580 1000,610 930,615 895,675 810,735 770,720 825,670 805,645 880,590 905,555 925,510 950,480 915,420 905,385 880,355"/>
<polygon class="c6" points="505,650 545,610 560,570 610,525 650,550 650,630 690,625 800,650 810,670 780,700 825,670 810,735 770,725 700,695 610,700 610,765 555,795 510,785 540,710 505,720"/>
<polygon class="c6" points="245,530 290,515 305,545 290,575 345,605 405,620 320,660 235,645 230,605 285,610 290,570 265,540"/>
</g>
</g>
<polygon class="c5 coast" points="790,840 835,815 845,790 890,785 960,720 920,770 935,800 890,830 860,870 810,870"/>
<g class="c6">
<polygon class="coast" points="395,830 425,795 425,820 405,850"/>
<polygon class="coast" points="180,550 215,530 235,560 205,565"/>
<polygon class="coast" points="190,620 215,615 215,655 200,655"/>
<polygon class="coast" points="270,690 295,685 285,695"/>
<polygon class="coast" points="100,490 125,485 125,500 110,505"/>
<polygon class="coast" points="45,420 60,415 60,430 50,432"/>
<polygon class="coast" points="120,430 140,430 130,437"/>
<polygon class="coast" points="178,775 195,765 195,795 178,790"/>
<polygon class="coast" points="220,715 245,703 225,725"/>
<polygon class="coast" points="215,800 238,780 225,805"/>
<polygon class="coast" points="100,835 118,825 110,840"/>
<polygon class="coast" points="155,790 170,778 170,792"/>
<polygon class="coast" points="70,605 85,615 80,622"/>
<polygon class="coast" points="130,745 145,745 135,758"/>
<polygon class="coast" points="160,740 175,738 168,750"/>
<polygon class="coast" points="150,830 165,820 155,840"/>
<polygon class="coast" points="175,810 188,820 180,825"/>
<polygon class="coast" points="265,805 278,800 272,820"/>
<polygon class="coast" points="350,880 358,900 350,915"/>
<polygon class="coast" points="120,795 130,805 122,808"/>
<polygon class="coast" points="90,760 97,770 92,775"/>
<polygon class="coast" points="20,820 30,828 22,832"/>
<polygon class="coast" points="55,825 68,828 58,832"/>
</g>
<polygon class="c4 coast" points="145,460 165,450 150,465"/>
</g>

<!-- Borders -->
<g>
<g transform="translate(540,50) scale(.33333,.35714)">
<polyline class="b" points="355,1190 370,1185 375,1110 405,1040 390,990 415,960 385,910 375,800 370,770 385,710 410,685 460,685 440,630 470,570 470,485 500,475 535,385 525,340 550,285 590,295 595,240 660,240 665,180 690,170 705,150 745,195 800,180 850,190 865,155 855,60 910,30 975,65 985,110 1030,40"/>
<polyline class="b" points="670,178 745,230 800,260 830,340 855,400 880,460"/>
<polyline class="b" points="975,65 975,130 985,185 1060,235 1055,315 1125,400 1135,480 1195,550 1195,600 1285,655 1285,700 1180,925"/>
<polyline class="b" points="1225,1030 1235,1045 1205,1090 1250,1170 1240,1210"/>
<polyline class="b" points="1070,1215 1120,1190 1190,1225 1240,1215 1275,1220 1280,1270 1320,1325 1300,1370 1255,1400 1125,1355 1020,1380 960,1385 920,1420"/>
<polyline class="b" points="1245,1400 1245,1430 1260,1440 1220,1490 1215,1545 1230,1555"/>
</g>
<g transform="translate(840,0) scale(.33333,.56117)">
<polyline class="b" points="420,935 470,945 510,950 550,938 595,950 610,990 660,1020 695,1030 700,1040 745,1045 765,1055 745,1080 690,1090 700,1100 750,1142 780,1140 785,1125 865,1108 915,1135 935,1165 985,1160 1045,1198 1110,1192 1155,1172 1215,1185 1280,1180 1360,1185 1370,1205 1355,1220 1400,1260 1400,1285 1345,1295 1320,1320 1330,1350"/>
<polyline class="b" points="200,1215 370,1215 470,1215 515,1222 580,1215 620,1210 650,1200 700,1205 690,1185 700,1155 750,1142"/>
<polyline class="b" points="45,1040 95,1050 145,1050 145,1085 205,1105 260,1100 330,1080"/>
<polyline class="b" points="0,1100 140,1088"/>
<polyline class="b" points="530,1420 590,1410 640,1415 705,1425 720,1460 770,1480 800,1505 735,1520 730,1545 712,1568"/>
</g>
<g transform="translate(450,600) scale(.33333)">
<polyline class="b" points="465,42 510,50"/>
<polyline class="b" points="370,210 360,310 330,350 285,360 290,400 300,430 285,430 240,410 205,390 170,400 145,405 110,395"/>
<polyline class="b" points="285,430 300,430 300,470 290,475 305,510 285,530 265,550 260,570 270,600 300,590 285,530"/>
<polyline class="b" points="55,420 70,450 105,465 110,490 150,515 155,545 190,530 200,565 240,595 265,595 300,600 345,640 425,660 385,720 375,800"/>
<polygon class="b" points="375,805 440,800 515,815 510,850 555,880 580,880 580,915 545,910 535,945 510,935 480,985 465,965 435,925 410,930 340,930 320,950 262,925 310,860 330,820"/>
<polyline class="b" points="515,815 560,835 610,830 700,800 760,800 765,780 740,750 800,700 810,680"/>
<polygon class="b" points="695,525 835,460 865,440 880,445 965,480 1000,510 1005,490 1060,520 1120,530 1145,570 1100,600 1030,655 1020,670 885,650 845,695 810,680 760,640 720,590"/>
<polyline class="b" points="805,140 825,210 810,250 845,300 850,350 880,400 865,440"/>
<polyline class="b" points="1145,570 1185,560 1210,590 1240,575 1300,555 1380,572 1420,575 1400,520 1470,400 1430,300 1400,225 1420,180 1370,60 1320,30 1130,55"/>
<polyline class="b" points="1400,580 1385,640 1380,660"/>
<polyline class="b" points="1030,655 1020,690 1045,740 1035,770 995,775 1005,850 990,860 875,920 810,910 720,900 695,860 580,885"/>
<polyline class="b" points="1045,740 1090,760 1120,760 1160,720 1230,700 1265,665 1300,650 1380,660 1440,680"/>
<polyline class="b" points="810,910 790,935 815,975 810,1025"/>
</g>
<g transform="translate(700,800) scale(.33333)">
<polyline class="b" points="690,85 650,120 625,195 600,260 545,310"/>
<polyline class="b" points="240,260 330,300 410,350 440,345 490,305 545,310"/>
<polyline class="b" points="55,420 130,400 165,415 185,385 190,340 230,300 255,300 230,265"/>
<polyline class="b" points="690,85 720,70 750,80 850,85 950,5 1000,40 1090,160 1095,190 1120,265 1200,245 1225,250"/>
<polyline class="b" points="1120,265 1135,230 1160,185 1150,145 1220,140 1215,125 1135,45 1120,0"/>
<polyline class="b" points="545,310 590,375 640,395 640,435 700,450 735,445 760,480 770,510 880,500 965,495 1030,440 1095,420 1160,440 1190,430"/>
<polyline class="b" points="745,480 725,510 735,550 780,580 750,625 750,675 805,710 810,765 890,730 940,735 985,745 1055,720 1045,685 1075,645 1120,625 1190,620"/>
<polyline class="b" points="1045,685 1090,690 1075,720 1085,750 1060,790"/>
<polyline class="b" points="445,345 455,400 490,415 465,445 485,450"/>
<polygon class="b" points="220,440 260,450 300,430 365,440 385,435 465,445 485,450 475,500 495,540 515,570 480,590 455,620 445,690 380,660 350,605 255,530 220,465"/>
<polyline class="b" points="480,590 495,590 590,640 570,660 575,680"/>
<polyline class="b" points="520,715 525,760"/>
<polyline class="b" points="625,735 615,770 625,810 650,845 720,825 735,800 800,790 810,765"/>
<polyline class="b" points="625,735 690,690 750,675"/>
<polyline class="b" points="650,845 670,855 660,895 630,935 620,960"/>
<polyline class="b" points="540,680 570,680 625,735"/>
</g>
<g transform="translate(80,760) scale(.33333)">
<polyline class="b" points="205,1240 205,1205 265,1150 245,1140 240,1110 280,1065 250,990 295,995 305,960 325,935 330,860 390,820 370,770 330,760 300,770 250,755 258,725 205,725"/>
<polyline class="b" points="760,700 790,712 780,732 850,765 885,785 940,790 942,775 995,800 1000,820 1020,825 1045,835 1080,845 1130,838"/>
<polyline class="b" points="1420,445 1440,495 1420,510 1445,560 1410,580 1435,620 1425,665 1480,690 1465,725"/>
<polygon class="b" style="stroke-width:1.5" points="997,810 1012,808 1020,820 997,825"/>
</g>
</g>

<!-- Insets -->
<g transform="translate(1110,110) scale(.33333)">
<rect class="inset" x="46" y="45" width="565" height="263"/>
<g class="c6">
<polygon class="coast" points="205,103 215,110 205,133 198,110"/>
<polygon class="coast" points="168,177 187,177 175,187"/>
<polygon class="coast" points="228,165 242,172 235,178 227,172"/>
<polygon class="coast" points="260,162 300,160 312,165 290,175 275,193 265,193"/>
<circle class="coast" cx="335" cy="220" r="15"/>
<polygon class="coast" points="415,237 445,205 465,200 450,232 425,238"/>
<polygon class="coast" points="465,187 490,175 498,172 495,185 470,193"/>
<polygon class="coast" points="358,53 364,53 364,62 358,62"/>
</g>
<polygon class="gr coast" points="478,307 485,290 510,275 610,275 610,307"/>
<polyline class="b" points="485,290 548,310"/>
<rect class="inset" x="46" y="348" width="263" height="263"/>
<polygon class="c5 coast" points="67,490 80,478 115,495 148,490 183,515 165,543 135,543 75,515"/>
<polygon class="c5 coast" points="262,432 280,415 292,415 290,435 275,440"/>
<rect class="inset" x="349" y="348" width="263" height="263"/>
<g class="c5">
<polygon class="coast" points="390,355 400,358 398,372 390,372"/>
<polygon class="coast" points="375,395 385,392 390,405 382,415 375,412"/>
<ellipse class="coast" cx="409" cy="437" rx="5" ry="3"/>
<ellipse class="coast" cx="458" cy="463" rx="10" ry="5"/>
<polygon class="coast" points="396,463 422,475 420,478 398,467"/>
<ellipse class="coast" cx="368" cy="474" rx="6" ry="4"/>
<polygon class="coast" points="376,477 395,480 407,487 385,486"/>
<polygon class="coast" points="541,527 550,532 582,531 582,538 560,541 545,535"/>
<ellipse class="coast" cx="588" cy="598" rx="6" ry="3"/>
</g>
<rect x="349" y="348" width="78" height="79" fill="none" stroke="#333" stroke-width="1.5"/>
<rect class="inset" x="46" y="651" width="263" height="263"/>
<polygon class="c6 coast" points="110,755 122,738 160,758 183,745 173,710 190,702 205,720 210,742 240,755 188,777 162,768 165,810 155,830 133,838 118,810"/>
<polygon class="c6 coast" points="220,838 235,823 255,843 240,858"/>
<rect class="inset" x="349" y="651" width="263" height="263"/>
<polygon class="c6 coast" points="420,730 445,713 475,730 495,755 513,752 540,827 522,853 510,838 460,832 462,810 478,805 440,778"/>
<rect class="inset" x="46" y="954" width="263" height="263"/>
<polygon class="c6 coast" points="103,1063 118,1035 160,1020 205,1030 253,1100 245,1145 205,1152 160,1140 125,1115"/>
<rect class="inset" x="349" y="954" width="263" height="263"/>
<polygon class="gr coast" points="350,967 380,968 435,985 490,1000 520,1020 560,1050 570,1062 590,1085 600,1125 610,1160 610,1216 350,1216"/>
<polygon class="c6" points="435,988 490,998 520,1020 555,1045 565,1075 525,1120 510,1165 490,1182 440,1172 425,1185 400,1172 420,1150 432,1103 410,1065 408,1025"/>
<polyline class="b" points="435,988 408,1025 410,1065 432,1103 420,1150 400,1172 425,1185 440,1172 490,1182 510,1165 525,1120 565,1075"/>
<polyline class="b" points="348,1165 375,1158 400,1172"/>
<rect x="349" y="954" width="263" height="263" fill="none" stroke="#444" stroke-width="1.5"/>
<rect class="inset" x="177" y="1257" width="263" height="263"/>
<polygon class="c6 coast" points="288,1360 298,1352 325,1370 320,1395 305,1418 300,1395 295,1385"/>
<polyline class="lineonly" points="180,1262 187,1270 185,1295"/>
</g>

<!-- Cities -->
<g class="city">
<circle cx="164" cy="187" r="4.5"/><text x="183" y="191">Reykjavík</text>
<circle cx="644" cy="438" r="4.5"/><text x="663" y="442">Oslo</text>
<circle cx="775" cy="454" r="4.5"/><text x="795" y="458">Stockholm</text>
<circle cx="890" cy="401" r="4.5"/><text x="909" y="405">Helsinki</text>
<circle cx="891" cy="431" r="4.5"/><text x="911" y="435">Tallinn</text>
<circle cx="898" cy="516" r="4.5"/><text x="917" y="520">Rīga</text>
<circle cx="681" cy="587" r="4.5"/><text x="700" y="591">København</text>
<circle cx="937" cy="590" r="4.5"/><text x="956" y="593">Vilnius</text>
<circle cx="866" cy="689" r="4.5"/><text x="885" y="693">M. Warszawa</text>
<circle cx="703" cy="696" r="4.5"/><text x="722" y="700">Berlin</text>
<circle cx="296" cy="630" r="4.5"/><text x="316" y="634">Dublin</text>
<circle cx="412" cy="720" r="4.5"/><text x="431" y="725">London</text>
<circle cx="523" cy="699" r="4.5"/><text x="542" y="703">Greater Amsterdam</text>
<circle cx="508" cy="751" r="4.5"/><text x="527" y="755">Bruxelles / Brussel (greater city)</text>
<circle cx="544" cy="796" r="4.5"/><text x="563" y="800">Luxembourg</text>
<circle cx="457" cy="816" r="4.5"/><text x="476" y="820">City of Paris</text>
<circle cx="731" cy="780" r="4.5"/><text x="751" y="783">Praha</text>
<circle cx="780" cy="841" r="4.5"/><text x="799" y="845">Wien</text>
<circle cx="796" cy="842" r="4.5"/><text x="815" y="845">Bratislava</text>
<circle cx="845" cy="859" r="4.5"/><text x="865" y="863">Budapest</text>
<circle cx="569" cy="890" r="4.5"/><text x="589" y="894">Bern</text>
<circle cx="740" cy="918" r="4.5"/><text x="759" y="922">Ljubljana</text>
<circle cx="777" cy="925" r="4.5"/><text x="796" y="928">Zagreb</text>
<circle cx="1029" cy="935" r="4.5"/><text x="1047" y="939">MUNICIPIUL BUCURESTI</text>
<circle cx="973" cy="1009" r="4.5"/><text x="992" y="1013">Sofia</text>
<circle cx="693" cy="1066" r="4.5"/><text x="712" y="1070">Roma</text>
<circle cx="269" cy="1083" r="4.5"/><text x="287" y="1086">Madrid</text>
<circle cx="113" cy="1109" r="4.5"/><text x="132" y="1113">Lisboa</text>
<circle cx="1009" cy="1166" r="4.5"/><text x="1028" y="1170">Athens</text>
<circle cx="759" cy="1269" r="4.5"/><text x="778" y="1273">Valletta (greater)</text>
</g>

<!-- Legend -->
<g>
<text x="29" y="283" font-size="25.3">Taux de chômage, 15-64 ans %</text>
<rect class="c6" x="29" y="310" width="54" height="36" stroke="#222" stroke-width="1.5"/>
<rect class="c5" x="29" y="346" width="54" height="36" stroke="#222" stroke-width="1.5"/>
<rect class="c4" x="29" y="382" width="54" height="36" stroke="#222" stroke-width="1.5"/>
<rect class="c3" x="29" y="418" width="54" height="36" stroke="#222" stroke-width="1.5"/>
<rect class="c2" x="29" y="454" width="54" height="36" stroke="#222" stroke-width="1.5"/>
<rect class="c1" x="29" y="490" width="54" height="36" stroke="#222" stroke-width="1.5"/>
<text class="leg" x="97" y="317">35.30</text>
<text class="leg" x="97" y="353">11.40</text>
<text class="leg" x="97" y="389">7.50</text>
<text class="leg" x="97" y="425">5.50</text>
<text class="leg" x="97" y="461">4.20</text>
<text class="leg" x="97" y="497">3.17</text>
<text class="leg" x="97" y="533">1.30</text>
<rect class="wh" x="29" y="553" width="54" height="36" stroke="#222" stroke-width="1.5"/>
<text class="leg" x="97" y="578">Pas de données</text>
</g>

<!-- Footer -->
<text x="15" y="1300" font-size="19.15" font-style="italic" style="white-space:pre">Eurostat, GISCO, 2024 / Table lfst_r_lfur2gac / Dernière mise à jour :  14.12.2023</text>
<text x="1252" y="1293" font-size="19.5" text-anchor="middle">500 km</text>
<line x1="1173" y1="1299" x2="1331" y2="1299" stroke="#000" stroke-width="2"/>

<!-- Frame + title -->
<rect x=".5" y=".5" width="1343" height="1312" fill="none" stroke="#333"/>
<rect x="0" y="0" width="713" height="50" fill="#000"/>
<text x="14" y="38" font-size="35.6" font-weight="bold" fill="#fff">Taux de chômage régional (NUTS2) 2018</text>
</svg>
</body>
</html>
